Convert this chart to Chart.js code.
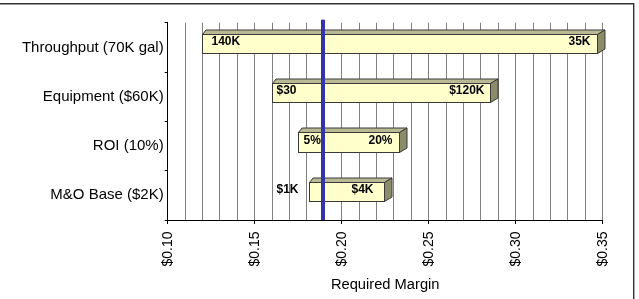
<!DOCTYPE html>
<html><head><meta charset="utf-8">
<script src="https://cdn.jsdelivr.net/npm/chart.js@4/dist/chart.umd.min.js"></script>
<style>html,body{margin:0;padding:0;background:#fff;overflow:hidden}#wrap{width:639px;height:299px;position:relative}</style>
</head><body><div id="wrap"><canvas id="c"></canvas></div>
<script>
// ---- data ----
const categories = ['Throughput (70K gal)', 'Equipment ($60K)', 'ROI (10%)', 'M&O Base ($2K)'];
const lowValues  = [0.120, 0.160, 0.175, 0.181];
const highValues = [0.347, 0.2855, 0.233, 0.2245];
const lowLabels  = ['140K', '$30', '5%', '$1K'];
const highLabels = ['35K', '$120K', '20%', '$4K'];
const baseValue  = 0.189;
const xMin = 0.10, xMax = 0.35, xStep = 0.01, xLabelStep = 0.05;
const xTitle = 'Required Margin';

// ---- styling (not data) ----
const FONT = "'Liberation Sans', Arial, sans-serif";
const lowLabelOffset  = [9, 4, 5, -11];   // px from bar's left edge (negative = outside, right-aligned)
const highLabelOffset = [7, 6, 7, 11];    // px from bar's right edge (inside, right-aligned)
const SHIFT = -4, DEPTH_Y = 4.5, DEPTH_XL = 3.5, DEPTH_XR = 7.5;

const isMajor = v => Math.abs(Math.round(v * 100) % Math.round(xLabelStep * 100)) === 0;

const barPlugin = {
  id: 'bars3d',
  beforeDraw(chart) {
    const c = chart.ctx;
    c.save(); c.fillStyle = '#fff'; c.fillRect(0, 0, chart.width, chart.height); c.restore();
  },
  afterDatasetsDraw(chart) {
    const c = chart.ctx;
    const meta = chart.getDatasetMeta(0);
    const xs = chart.scales.x;
    const area = chart.chartArea;
    c.save();
    const geo = [];
    meta.data.forEach((bar, i) => {
      const p = bar.getProps(['x', 'y', 'base', 'height'], true);
      const L = Math.round(Math.min(p.x, p.base)) + 0.5;
      const R = Math.round(Math.max(p.x, p.base)) + 0.5;
      const T = Math.round(p.y - p.height / 2 + SHIFT) + 0.5;
      const B = Math.round(p.y + p.height / 2 + SHIFT) + 0.5;
      geo.push({L, R, T, B});
      c.lineWidth = 1;
      c.strokeStyle = '#3a3a3a';
      // top face
      c.beginPath();
      c.moveTo(L, T); c.lineTo(L + DEPTH_XL, T - DEPTH_Y); c.lineTo(R + DEPTH_XR, T - DEPTH_Y); c.lineTo(R, T); c.closePath();
      c.fillStyle = '#b9b994'; c.fill(); c.stroke();
      // side face
      c.beginPath();
      c.moveTo(R, T); c.lineTo(R + DEPTH_XR, T - DEPTH_Y); c.lineTo(R + DEPTH_XR, B - DEPTH_Y); c.lineTo(R, B); c.closePath();
      c.fillStyle = '#8c8c6a'; c.fill(); c.stroke();
      // front face
      c.fillStyle = '#ffffcc';
      c.fillRect(L, T, R - L, B - T);
      c.strokeRect(L, T, R - L, B - T);
    });
    // base value line
    const bx = xs.getPixelForValue(baseValue);
    c.fillStyle = '#3434a8';
    c.fillRect(Math.round(bx) - 2, area.top - 3, 4, area.bottom - area.top + 3);
    // labels
    c.fillStyle = '#000';
    c.font = 'bold 12px ' + FONT;
    c.textBaseline = 'middle';
    geo.forEach((g, i) => {
      const cy = (g.T + g.B) / 2 - 2;
      const lo = lowLabelOffset[i];
      if (lo >= 0) { c.textAlign = 'left'; c.fillText(lowLabels[i], g.L + lo, cy); }
      else { c.textAlign = 'right'; c.fillText(lowLabels[i], g.L + lo, cy); }
      c.textAlign = 'right';
      c.fillText(highLabels[i], g.R - highLabelOffset[i], cy);
    });
    c.restore();
  },
  afterDraw(chart) {
    const c = chart.ctx;
    c.save();
    c.fillStyle = '#333'; c.fillRect(0, 3, 634, 1);
    c.fillStyle = '#999'; c.fillRect(0, 4, 633, 1);
    c.fillStyle = '#333'; c.fillRect(633, 3, 1, 296);
    c.fillStyle = '#aaa'; c.fillRect(634, 3, 1, 296);
    c.restore();
  }
};

new Chart(document.getElementById('c'), {
  type: 'bar',
  data: {
    labels: categories,
    datasets: [{
      data: categories.map((_, i) => [lowValues[i], highValues[i]]),
      backgroundColor: 'rgba(0,0,0,0)',
      borderWidth: 0,
      barPercentage: 0.395,
      categoryPercentage: 1
    }]
  },
  options: {
    indexAxis: 'y',
    responsive: true,
    maintainAspectRatio: false,
    animation: false,
    devicePixelRatio: 1,
    layout: { padding: { top: 22.7, right: 36.3, left: 0, bottom: 0 } },
    plugins: { legend: { display: false }, tooltip: { enabled: false } },
    scales: {
      x: {
        type: 'linear', position: 'bottom', min: xMin, max: xMax,
        ticks: {
          stepSize: xStep, maxTicksLimit: 100, autoSkip: false,
          minRotation: 90, maxRotation: 90, padding: 7.5, color: '#000',
          font: { family: FONT, size: 14 },
          callback: v => isMajor(v) ? '$' + Number(v).toFixed(2) : ''
        },
        grid: {
          color: '#808080', lineWidth: 1, drawTicks: true, tickLength: 4,
          tickColor: ctx => (ctx.tick && isMajor(ctx.tick.value)) ? '#000' : 'rgba(0,0,0,0)'
        },
        border: { color: '#000', width: 1 },
        title: { display: true, text: xTitle, color: '#000', font: { family: FONT, size: 14.7 }, padding: { top: 0, bottom: 5 } },
        afterFit: s => { s.height = 79; }
      },
      y: {
        type: 'category', position: 'left',
        grid: { drawOnChartArea: false, drawTicks: true, tickLength: 3, color: '#000', offset: true },
        border: { color: '#000', width: 1 },
        ticks: { color: '#000', font: { family: FONT, size: 15 }, padding: 1 },
        afterFit: s => { s.width = 167.7; }
      }
    }
  },
  plugins: [barPlugin]
});
</script>
</body></html>
